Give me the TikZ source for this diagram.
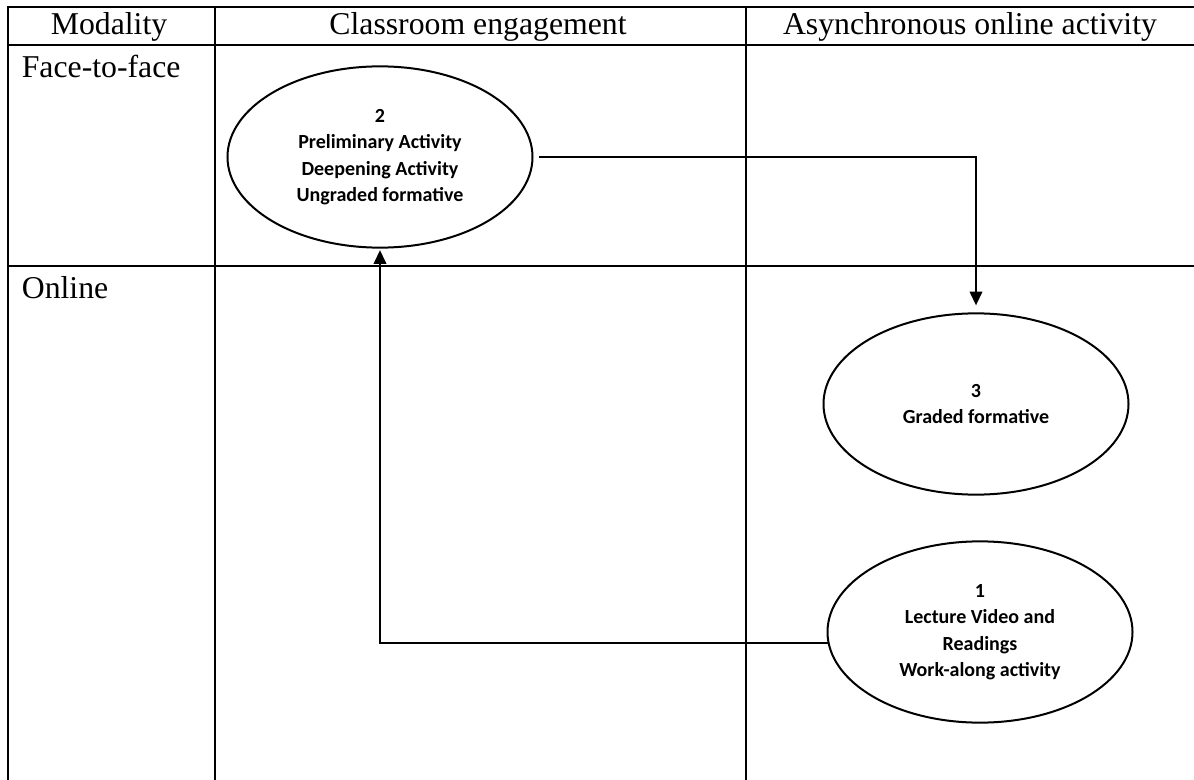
\documentclass[tikz,border=0pt]{standalone}
\usepackage{fontspec}
\setmainfont{Liberation Serif}
\newfontfamily\stepfont{Carlito}
\usetikzlibrary{shapes.geometric, arrows.meta}

\tikzset{
  grid line/.style={line width=0.8pt},
  head/.style={font=\fontsize{12.7}{14}\selectfont},
  stage/.style={draw, ellipse, line width=0.8pt, minimum width=122pt,
                minimum height=72.5pt, inner sep=0pt, align=center,
                font=\stepfont\bfseries\fontsize{8}{10.6}\selectfont},
  flow/.style={line width=0.8pt, -{Triangle[width=5pt,length=5.5pt]}},
}

\begin{document}
\begin{tikzpicture}[x=0.4pt, y=-0.4pt]
    \useasboundingbox (0,0) rectangle (1194,780);
    % table frame
    \draw[grid line] (8,800) -- (8,7) -- (1200,7);
    \draw[grid line] (8,45) -- (1200,45);
    \draw[grid line] (8,266) -- (1200,266);
    \draw[grid line] (215,7) -- (215,800);
    \draw[grid line] (746,7) -- (746,800);
    % header row
    \node[head] (hmod) at (109,27) {Modality};
    \node[head] (hclass) at (478,27) {Classroom engagement};
    \node[head] (hasync) at (970,27) {Asynchronous online activity};
    \node[head, anchor=north west] (ftf) at (13,46) {Face-to-face};
    \node[head, anchor=north west] (onl) at (13,268) {Online};
    % activities
    \node[stage] (stepTwo) at (380,157)
          {2\\Preliminary Activity\\Deepening Activity\\Ungraded formative};
    \node[stage] (stepThree) at (976,404) {3\\Graded formative};
    \node[stage] (stepOne) at (980,632)
          {1\\Lecture Video and\\Readings\\Work-along activity};
    \draw[flow, shorten <=2pt, shorten >=2.8pt] (stepTwo.east) -| (stepThree.north);
    \draw[flow, shorten >=0.6pt] (stepOne.184) -| (stepTwo.south);
  \end{tikzpicture}
\end{document}
